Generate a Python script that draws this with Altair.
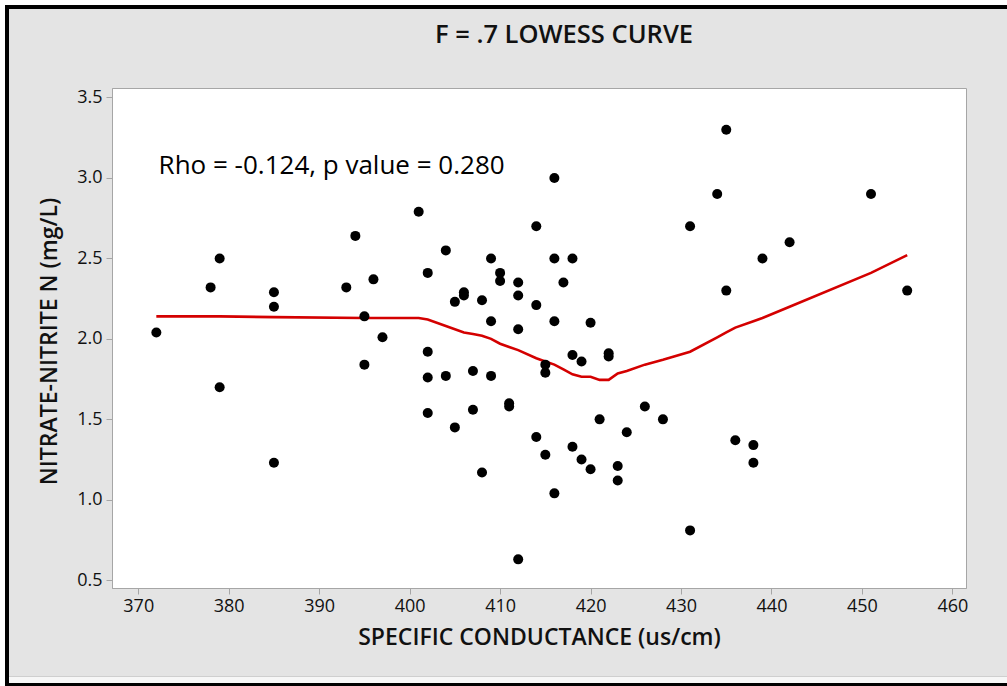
import altair as alt
import pandas as pd

# Scatter data: specific conductance (us/cm) vs nitrate-nitrite N (mg/L)
cond = [372, 378, 379, 379, 385, 385, 385, 393, 394, 395, 395, 396, 397,
        401, 402, 402, 402, 402, 404, 404, 405, 405, 406, 406, 407, 407,
        408, 408, 409, 409, 409, 410, 410, 411, 411, 412, 412, 412, 412,
        414, 414, 414, 415, 415, 415, 416, 416, 416, 416, 417, 418, 418,
        418, 419, 419, 420, 420, 421, 422, 422, 423, 423, 424, 426, 428,
        431, 431, 434, 435, 435, 436, 438, 438, 439, 442, 451, 455]
nitrate = [2.04, 2.32, 2.50, 1.70, 2.29, 2.20, 1.23, 2.32, 2.64, 2.14, 1.84, 2.37, 2.01,
           2.79, 2.41, 1.92, 1.76, 1.54, 2.55, 1.77, 2.23, 1.45, 2.29, 2.27, 1.80, 1.56,
           2.24, 1.17, 2.50, 2.11, 1.77, 2.41, 2.36, 1.60, 1.58, 2.35, 2.27, 2.06, 0.63,
           2.70, 2.21, 1.39, 1.84, 1.79, 1.28, 3.00, 2.50, 2.11, 1.04, 2.35, 2.50, 1.90,
           1.33, 1.86, 1.25, 2.10, 1.19, 1.50, 1.91, 1.89, 1.21, 1.12, 1.42, 1.58, 1.50,
           2.70, 0.81, 2.90, 3.30, 2.30, 1.37, 1.34, 1.23, 2.50, 2.60, 2.90, 2.30]

# LOWESS (f = 0.7) curve
lowess_x = [372, 379, 385, 395, 397, 401, 402, 404, 406, 407, 408, 409, 410, 411,
            412, 414, 415, 416, 417, 418, 419, 420, 421, 422, 423, 424, 426, 428,
            431, 434, 435, 436, 438, 439, 442, 451, 455]
lowess_y = [2.14, 2.14, 2.135, 2.13, 2.13, 2.13, 2.12, 2.08, 2.04, 2.03, 2.02, 2.00, 1.97, 1.95,
            1.93, 1.88, 1.86, 1.84, 1.81, 1.78, 1.765, 1.765, 1.745, 1.745, 1.785, 1.80, 1.84, 1.87,
            1.92, 2.01, 2.04, 2.07, 2.11, 2.13, 2.20, 2.41, 2.52]

x_ticks = [370, 380, 390, 400, 410, 420, 430, 440, 450, 460]
y_ticks = [0.5, 1.0, 1.5, 2.0, 2.5, 3.0, 3.5]

title_text = ["F = .7 LOWESS CURVE"]
annotation = ["Rho = -0.124, p value = 0.280"]
ann_x = [372.25]
ann_y = [3.075]

FONT = "Open Sans"
GRID = "#a6a6a6"
INK = "#111111"

pts = pd.DataFrame({"cond": cond, "nitrate": nitrate})
curve = pd.DataFrame({"cond": lowess_x, "nitrate": lowess_y})
ann = pd.DataFrame({"label": annotation, "cond": ann_x, "nitrate": ann_y})
ttl = pd.DataFrame({"label": title_text})
one = pd.DataFrame({"k": [0]})

xscale = alt.Scale(domain=[367.1, 461.5], nice=False, zero=False)
yscale = alt.Scale(domain=[0.452, 3.559], nice=False, zero=False)

xaxis = alt.Axis(values=x_ticks, title="SPECIFIC CONDUCTANCE (us/cm)", grid=False,
                 tickSize=6, tickColor=GRID, domainColor=GRID, labelPadding=3,
                 labelFontSize=18, labelFont=FONT, labelColor=INK,
                 titleFont=FONT, titleFontSize=23, titleFontWeight=600, titleColor=INK,
                 titleX=427, titleY=49, titleBaseline="middle", titleAlign="center")
yaxis = alt.Axis(values=y_ticks, format=".1f", title="NITRATE-NITRITE N (mg/L)", grid=False,
                 tickSize=6, tickColor=GRID, domainColor=GRID, labelPadding=4,
                 labelFontSize=18, labelFont=FONT, labelColor=INK,
                 titleFont=FONT, titleFontSize=23, titleFontWeight=600, titleColor=INK,
                 titleX=-63, titleY=253, titleBaseline="middle", titleAlign="center", titleAngle=-90)

points = alt.Chart(pts).mark_circle(color="black", opacity=1, size=100).encode(
    x=alt.X("cond:Q", scale=xscale, axis=xaxis),
    y=alt.Y("nitrate:Q", scale=yscale, axis=yaxis),
)
line = alt.Chart(curve).mark_line(color="#d40000", strokeWidth=2.6).encode(
    x="cond:Q", y="nitrate:Q"
)
text = alt.Chart(ann).mark_text(align="left", baseline="middle", font=FONT,
                                fontSize=26, color="black").encode(
    x="cond:Q", y="nitrate:Q", text="label:N"
)
title = alt.Chart(ttl).mark_text(align="center", baseline="middle", font=FONT,
                                 fontSize=25.5, fontWeight=600, color=INK).encode(
    x=alt.value(452), y=alt.value(-53), text="label:N"
)

# decorative picture frame (outside the plot area)
def band(x1, x2, y1, y2, color):
    return alt.Chart(one).mark_rect(color=color).encode(
        x=alt.value(x1), x2=alt.value(x2), y=alt.value(y1), y2=alt.value(y2))

frame = [
    band(-112, 895, -88, -83, "white"),
    band(-112, -107, -88, 598, "white"),
    band(-107, 895, -83, -79, "black"),
    band(-107, -103, -83, 598, "black"),
    band(-103, 895, 588, 589, "#cfcfcf"),
    band(-103, 895, 589, 595, "#f7f7f7"),
    band(-107, 895, 595, 598, "black"),
]

chart = alt.layer(*frame, line, points, text, title).properties(
    width=854, height=500,
    background="#e4e4e4",
    padding={"left": 112, "top": 88, "right": 41, "bottom": 98},
    autosize=alt.AutoSizeParams(type="none"),
).configure_view(stroke=GRID, strokeWidth=1, fill="white")

chart.save("out.html", embed_options={"renderer": "svg", "actions": False})
